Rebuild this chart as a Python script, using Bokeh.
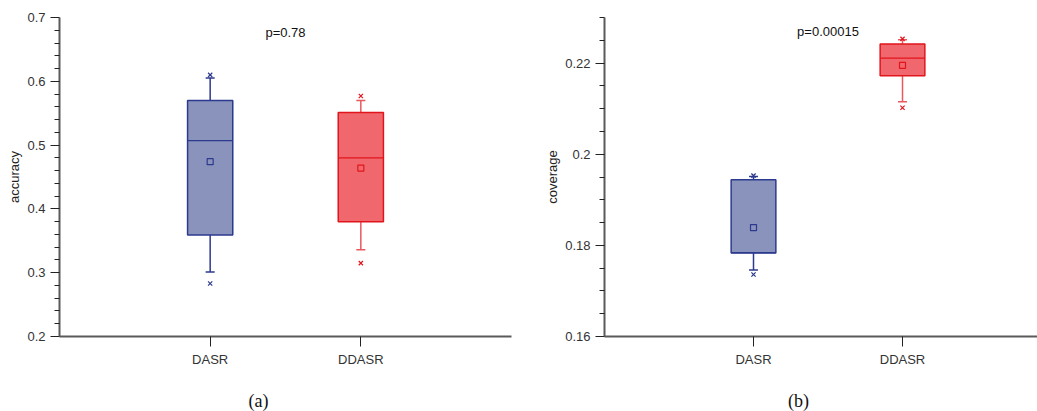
from bokeh.plotting import figure
from bokeh.layouts import row, column
from bokeh.models import (Range1d, FixedTicker, CustomJSTickFormatter, Label,
                          ColumnDataSource)
from bokeh.core.properties import value
from bokeh.embed import file_html
from bokeh.resources import INLINE

# ---- data -----------------------------------------------------------------
categories = ["DASR", "DDASR"]

# accuracy: box statistics per method
acc_min = [0.283, 0.315]
acc_whisker_low = [0.301, 0.336]
acc_q1 = [0.359, 0.380]
acc_median = [0.507, 0.480]
acc_q3 = [0.570, 0.551]
acc_whisker_high = [0.605, 0.570]
acc_max = [0.610, 0.577]
acc_mean = [0.474, 0.464]
acc_p = "p=0.78"
acc_ticks = [0.2, 0.3, 0.4, 0.5, 0.6, 0.7]

# coverage: box statistics per method
cov_min = [0.1736, 0.2102]
cov_whisker_low = [0.1746, 0.2115]
cov_q1 = [0.1783, 0.2172]
cov_median = [0.1784, 0.2211]
cov_q3 = [0.1944, 0.2242]
cov_whisker_high = [0.1951, 0.2251]
cov_max = [0.1953, 0.2253]
cov_mean = [0.1839, 0.2195]
cov_p = "p=0.00015"
cov_ticks = [0.16, 0.18, 0.20, 0.22]

captions = ["(a)", "(b)"]

# ---- styling --------------------------------------------------------------
FONT = "Liberation Sans"
SERIF = "Liberation Serif"
fills = ["#8a93bc", "#f0676d"]
edges = ["#2c3a8e", "#e0161c"]
whisker_colors = ["#2c3a8e", "#e8585e"]
BOX_W = 0.30
CAP_W = 0.06
PLOT_H = 376
CAP_H = 35

fmt = CustomJSTickFormatter(code="return String(parseFloat(tick.toFixed(4)));")


def make_panel(width, border_left, border_right, border_top, x_end,
               y_range, ticks, minor, ylabel, stats, ptext, p_y):
    p = figure(width=width, height=PLOT_H, output_backend="svg",
               toolbar_location=None, x_range=Range1d(0, x_end),
               y_range=Range1d(*y_range),
               min_border_left=border_left, min_border_right=border_right,
               min_border_top=border_top, min_border_bottom=40)
    p.outline_line_color = None
    p.grid.visible = False
    p.background_fill_color = "white"
    p.border_fill_color = "white"

    # x axis
    xa = p.xaxis[0]
    xa.ticker = FixedTicker(ticks=[1, 2], minor_ticks=[])
    xa.major_label_overrides = {1: categories[0], 2: categories[1]}
    xa.axis_line_color = "#5a5a5a"
    xa.axis_line_width = 2
    xa.major_tick_in = 0
    xa.major_tick_out = 10
    xa.major_tick_line_color = "#222222"
    xa.minor_tick_line_color = None
    xa.major_label_standoff = 5
    xa.major_label_text_font = FONT
    xa.major_label_text_font_size = "13px"
    xa.major_label_text_color = "#333333"

    # y axis
    ya = p.yaxis[0]
    ya.ticker = FixedTicker(ticks=ticks, minor_ticks=minor)
    ya.formatter = fmt
    ya.axis_line_color = "#5a5a5a"
    ya.axis_line_width = 2
    ya.major_tick_in = 0
    ya.major_tick_out = 9
    ya.minor_tick_in = 0
    ya.minor_tick_out = 5
    ya.major_tick_line_color = "#222222"
    ya.minor_tick_line_color = "#222222"
    ya.major_label_standoff = 5
    ya.major_label_text_font = FONT
    ya.major_label_text_font_size = "13px"
    ya.major_label_text_color = "#333333"
    ya.axis_label = ylabel
    ya.axis_label_standoff = 2
    ya.axis_label_text_font = FONT
    ya.axis_label_text_font_style = "normal"
    ya.axis_label_text_font_size = "13px"
    ya.axis_label_text_color = "#222222"

    mn, wl, q1, med, q3, wh, mx, mean = stats
    xs = [i + 1 for i in range(len(categories))]
    src = ColumnDataSource(dict(
        x=xs, mn=mn, wl=wl, q1=q1, med=med, q3=q3, wh=wh, mx=mx, mean=mean,
        fill=fills, edge=edges, wc=whisker_colors,
        cap_l=[x - CAP_W / 2 for x in xs], cap_r=[x + CAP_W / 2 for x in xs],
        box_l=[x - BOX_W / 2 for x in xs], box_r=[x + BOX_W / 2 for x in xs],
    ))

    # whiskers and caps
    p.segment(x0="x", y0="q3", x1="x", y1="wh", source=src,
              line_color="wc", line_width=1.5)
    p.segment(x0="x", y0="q1", x1="x", y1="wl", source=src,
              line_color="wc", line_width=1.5)
    p.segment(x0="cap_l", y0="wh", x1="cap_r", y1="wh", source=src,
              line_color="wc", line_width=1.5)
    p.segment(x0="cap_l", y0="wl", x1="cap_r", y1="wl", source=src,
              line_color="wc", line_width=1.5)

    # boxes
    p.vbar(x="x", width=BOX_W, bottom="q1", top="q3", source=src,
           fill_color="fill", line_color="edge", line_width=1.5)
    p.segment(x0="box_l", y0="med", x1="box_r", y1="med", source=src,
              line_color="edge", line_width=1.2)

    # mean and extreme markers
    p.scatter(x="x", y="mean", source=src, marker="square", size=6,
              fill_alpha=0, line_color="edge", line_width=1.2)
    p.scatter(x="x", y="mx", source=src, marker="x", size=6,
              line_color="edge", line_width=1.2)
    p.scatter(x="x", y="mn", source=src, marker="x", size=6,
              line_color="edge", line_width=1.2)

    p.add_layout(Label(x=1.5, y=p_y, text=ptext, text_font=FONT,
                       text_font_size="13px", text_color="#111111",
                       text_align="center", text_baseline="middle"))
    return p


def make_caption(width, text, cx):
    c = figure(width=width, height=CAP_H, output_backend="svg",
               toolbar_location=None, x_range=Range1d(0, width),
               y_range=Range1d(0, CAP_H), min_border=0)
    c.axis.visible = False
    c.grid.visible = False
    c.outline_line_color = None
    c.text(x=[cx], y=[11], text=[text], text_font=value(SERIF),
           text_font_size="18px", text_color="#111111",
           text_align="center", text_baseline="middle")
    return c


p1 = make_panel(530, 59, 19, 17, 3.0, (0.2, 0.7), acc_ticks,
                [0.22, 0.24, 0.26, 0.28, 0.32, 0.34, 0.36, 0.38,
                 0.42, 0.44, 0.46, 0.48, 0.52, 0.54, 0.56, 0.58,
                 0.62, 0.64, 0.66, 0.68],
                "accuracy",
                (acc_min, acc_whisker_low, acc_q1, acc_median, acc_q3,
                 acc_whisker_high, acc_max, acc_mean),
                acc_p, 0.6765)

p2 = make_panel(507, 74, 0, 12, 2.906, (0.16, 0.23), cov_ticks,
                [0.165, 0.17, 0.175, 0.185, 0.19, 0.195,
                 0.205, 0.21, 0.215, 0.225, 0.23],
                "coverage",
                (cov_min, cov_whisker_low, cov_q1, cov_median, cov_q3,
                 cov_whisker_high, cov_max, cov_mean),
                cov_p, 0.2269)

c1 = make_caption(530, captions[0], 258)
c2 = make_caption(507, captions[1], 268)

layout = column(row(p1, p2), row(c1, c2))
open("out.html", "w").write(file_html(layout, INLINE))
